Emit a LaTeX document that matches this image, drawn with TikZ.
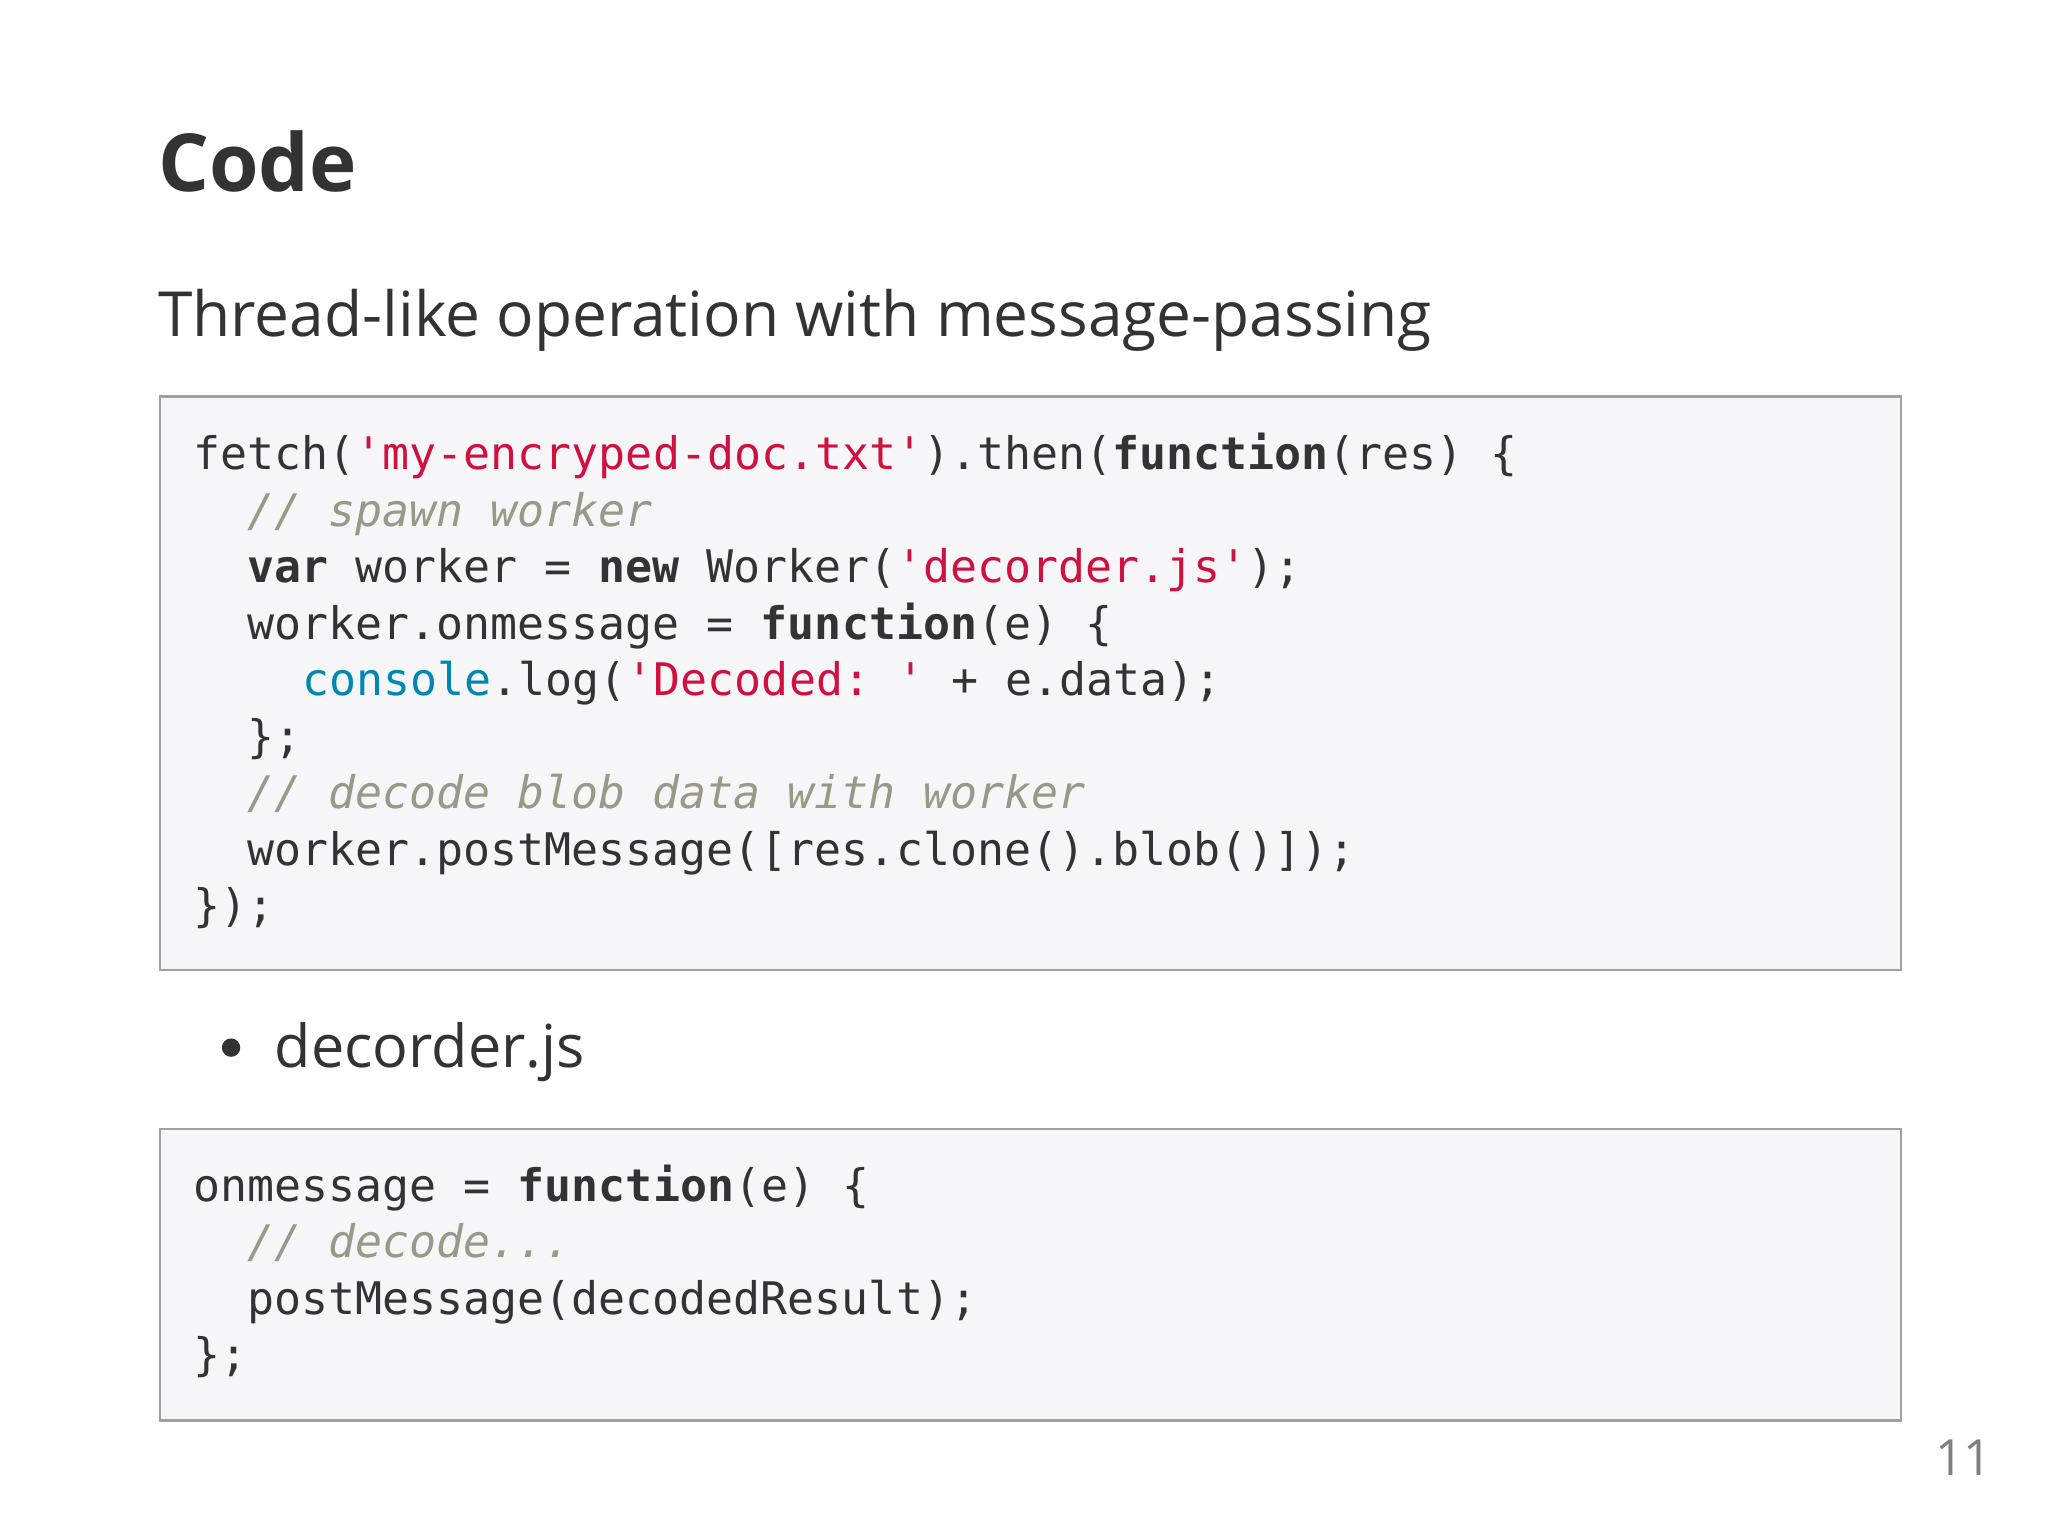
\documentclass[tikz,border=0pt]{standalone}
\usepackage{fontspec}
\setmainfont{Open Sans}
\setmonofont{DejaVu Sans Mono}
\definecolor{txt}{HTML}{333333}
\definecolor{strc}{HTML}{D01040}
\definecolor{cmc}{HTML}{999988}
\definecolor{cnc}{HTML}{0086B3}
\definecolor{boxbg}{HTML}{F6F6F8}
\definecolor{boxbd}{HTML}{A0A0A0}
\newcommand{\kw}[1]{\textbf{#1}}
\newcommand{\strg}[1]{\textcolor{strc}{#1}}
\newcommand{\cmt}[1]{\textcolor{cmc}{\textit{#1}}}
\newcommand{\cns}[1]{\textcolor{cnc}{#1}}
\begin{document}
\begin{tikzpicture}[x=0.5pt,y=-0.5pt,
  code/.style={anchor=base west,inner sep=0pt,text=txt,font=\ttfamily\fontsize{17.1}{20}\selectfont},
  codebox/.style={draw=boxbd,fill=boxbg,line width=0.8pt}]
\useasboundingbox[fill=white] (0,0) rectangle (1560,1172);
\node[anchor=base west,inner sep=0pt,text=txt,font=\bfseries\fontsize{30.5}{36}\selectfont] (title) at (120,146) {Code};
\node[anchor=base west,inner sep=0pt,text=txt,font=\fontsize{23.7}{28}\selectfont] (sub) at (120,256) {Thread-like operation with message-passing};
\draw[codebox] (122,302) rectangle (1448,739);
\node[code] (l1) at (147,358) {fetch(\strg{'my-encryped-doc.txt'}).then(\kw{function}(res) \{};
\node[code] (l2) at (188,401) {\cmt{// spawn worker}};
\node[code] (l3) at (188,444) {\kw{var} worker = \kw{new} Worker(\strg{'decorder.js'});};
\node[code] (l4) at (188,487) {worker.onmessage = \kw{function}(e) \{};
\node[code] (l5) at (230,530) {\cns{console}.log(\strg{'Decoded: '} + e.data);};
\node[code] (l6) at (188,573) {\};};
\node[code] (l7) at (188,616) {\cmt{// decode blob data with worker}};
\node[code] (l8) at (188,659) {worker.postMessage([res.clone().blob()]);};
\node[code] (l9) at (147,702) {\});};
\fill[txt] (176,798) circle (7);
\node[anchor=base west,inner sep=0pt,text=txt,font=\fontsize{22.6}{28}\selectfont] (bul) at (209,813) {decorder.js};
\draw[codebox] (122,860) rectangle (1448,1082);
\node[code] (m1) at (147,915) {onmessage = \kw{function}(e) \{};
\node[code] (m2) at (188,958) {\cmt{// decode...}};
\node[code] (m3) at (188,1001) {postMessage(decodedResult);};
\node[code] (m4) at (147,1044) {\};};
\node[anchor=base east,inner sep=0pt,text=gray,font=\fontsize{19}{22}\selectfont] (pg) at (1518,1124) {11};
\end{tikzpicture}
\end{document}
